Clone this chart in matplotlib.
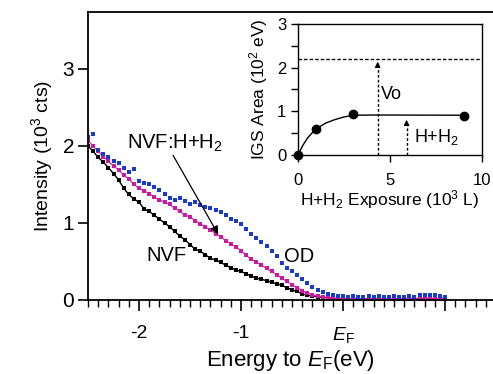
import numpy as np
import matplotlib
matplotlib.use("Agg")
import matplotlib.pyplot as plt

plt.rcParams['font.family'] = ['Liberation Sans', 'DejaVu Sans']
plt.rcParams['mathtext.fontset'] = 'custom'
plt.rcParams['mathtext.rm'] = 'Liberation Sans'
plt.rcParams['mathtext.it'] = 'Liberation Sans:italic'
plt.rcParams['axes.unicode_minus'] = False

# energy grid (eV relative to E_F), 0.05 eV steps
energy = np.linspace(-2.5, 1.0, 71)

nvf = [2.00, 1.93, 1.85, 1.79, 1.72, 1.64, 1.56, 1.45, 1.37, 1.31,
       1.27, 1.18, 1.15, 1.10, 1.05, 1.00, 0.95, 0.89, 0.83, 0.78,
       0.72, 0.66, 0.63, 0.59, 0.54, 0.52, 0.49, 0.45, 0.42, 0.39,
       0.37, 0.34, 0.31, 0.28, 0.27, 0.25, 0.23, 0.21, 0.19, 0.16,
       0.13, 0.11, 0.08, 0.06, 0.05, 0.04, 0.03, 0.03, 0.02, 0.02,
       0.02, 0.01, 0.02, 0.01, 0.01, 0.02, 0.01, 0.01, 0.01, 0.02,
       0.01, 0.01, 0.01, 0.01, 0.02, 0.01, 0.01, 0.01, 0.01, 0.01,
       0.01]

nvf_h = [2.07, 2.00, 1.93, 1.86, 1.80, 1.74, 1.69, 1.62, 1.57, 1.50,
         1.45, 1.42, 1.38, 1.34, 1.30, 1.27, 1.24, 1.19, 1.15, 1.10,
         1.08, 1.03, 0.99, 0.95, 0.91, 0.86, 0.82, 0.77, 0.73, 0.69,
         0.64, 0.58, 0.53, 0.49, 0.45, 0.41, 0.37, 0.33, 0.28, 0.24,
         0.20, 0.16, 0.12, 0.09, 0.07, 0.05, 0.04, 0.03, 0.02, 0.02,
         0.02, 0.02, 0.01, 0.02, 0.02, 0.01, 0.02, 0.02, 0.01, 0.02,
         0.02, 0.02, 0.01, 0.02, 0.02, 0.02, 0.03, 0.02, 0.02, 0.02,
         0.03]

od = [2.12, 2.15, 1.95, 1.90, 1.85, 1.80, 1.78, 1.72, 1.66, 1.70,
      1.55, 1.52, 1.50, 1.47, 1.43, 1.38, 1.33, 1.30, 1.33, 1.28,
      1.25, 1.27, 1.23, 1.21, 1.19, 1.17, 1.14, 1.10, 1.05, 1.02,
      0.98, 0.92, 0.86, 0.80, 0.75, 0.70, 0.64, 0.57, 0.48, 0.42,
      0.37, 0.32, 0.27, 0.22, 0.17, 0.13, 0.10, 0.08, 0.06, 0.05,
      0.05, 0.04, 0.05, 0.04, 0.04, 0.05, 0.04, 0.05, 0.04, 0.04,
      0.05, 0.04, 0.04, 0.05, 0.04, 0.06, 0.06, 0.07, 0.06, 0.05,
      0.04]

# inset: IGS area vs exposure
exposure_pts = [0, 1, 3, 9]
igs_pts = [0.0, 0.6, 0.93, 0.9]
fit_x = [0, 0.25, 0.5, 0.75, 1.0, 1.5, 2.0, 2.5, 3.0, 4.0, 5.0, 9.0]
fit_y = [0.0, 0.21, 0.38, 0.50, 0.60, 0.73, 0.81, 0.87, 0.91, 0.915, 0.915, 0.91]
vo_level = 2.2
vo_x = 4.33
hh_x = 5.9

fig = plt.figure(figsize=(4.93, 3.74), dpi=100)
ax = fig.add_axes([0.1785, 0.198, 0.8215, 0.770])

ax.plot(energy, nvf, color='black', marker='s', ms=2.2, lw=1.0, mew=0)
ax.plot(energy, nvf_h, color='#cc1aa0', marker='s', ms=2.4, lw=0.8, mew=0)
ax.plot(energy, od, color='#1a3acc', marker='s', ms=2.6, ls='none', mew=0)

ax.set_xlim(-2.5, 1.47)
ax.set_ylim(0, 3.74)
ax.spines['right'].set_visible(False)
for s in ['left', 'bottom', 'top']:
    ax.spines[s].set_linewidth(1.3)
ax.set_xticks([-2, -1, 0, 1])
ax.set_xticklabels(['-2', '-1', r'$E_{\mathrm{F}}$', ''], fontsize=14)
ax.set_xticks(np.arange(-2.5, 1.5, 0.1), minor=True)
ax.set_yticks([0, 1, 2, 3])
ax.set_yticklabels(['0', '1', '2', '3'], fontsize=15)
ax.tick_params(axis='x', which='major', direction='out', length=8, width=1.2, pad=10)
ax.tick_params(axis='x', which='minor', direction='out', length=5, width=1.0)
ax.tick_params(axis='y', which='major', direction='out', length=7, width=1.2, pad=3)
ax.set_xlabel(r'Energy to $E_{\mathrm{F}}$(eV)', fontsize=16, labelpad=2)
ax.set_ylabel(r'Intensity (10$^3$ cts)', fontsize=14, labelpad=5)

ax.text(-1.65, 2.04, r'NVF:H+H$_2$', fontsize=14.5, ha='center', va='center')
ax.annotate('', xy=(-1.21, 0.82), xytext=(-1.68, 1.91),
            arrowprops=dict(arrowstyle='-|>', color='black', lw=0.9,
                            mutation_scale=12))
ax.text(-1.73, 0.58, 'NVF', fontsize=14.5, ha='center', va='center')
ax.text(-0.43, 0.56, 'OD', fontsize=14.5, ha='center', va='center')

# inset
ins = fig.add_axes([0.6045, 0.5856, 0.3732, 0.3503])
ins.plot(fit_x, fit_y, color='black', lw=1.0)
ins.plot(exposure_pts, igs_pts, 'o', color='black', ms=6, clip_on=False)
ins.axhline(vo_level, color='black', lw=1.0, ls=(0, (2.5, 1.5)))
ins.plot([vo_x, vo_x], [0, vo_level - 0.15], color='black', lw=1.0, ls=(0, (2, 1.5)))
ins.annotate('', xy=(vo_x, vo_level), xytext=(vo_x, vo_level - 0.2),
             arrowprops=dict(arrowstyle='-|>', color='black', lw=0.8,
                             mutation_scale=8))
ins.plot([hh_x, hh_x], [0, 0.72], color='black', lw=1.0, ls=(0, (2, 1.5)))
ins.annotate('', xy=(hh_x, 0.87), xytext=(hh_x, 0.67),
             arrowprops=dict(arrowstyle='-|>', color='black', lw=0.8,
                             mutation_scale=8))
ins.text(4.5, 1.38, 'Vo', fontsize=13, ha='left', va='center')
ins.text(6.3, 0.42, r'H+H$_2$', fontsize=13, ha='left', va='center')

ins.set_xlim(0, 10)
ins.set_ylim(0, 3)
ins.set_xticks([0, 5, 10])
ins.set_xticklabels(['0', '5', '10'], fontsize=12)
ins.set_yticks([0, 1, 2, 3])
ins.set_yticks([0.5, 1.5, 2.5], minor=True)
ins.set_yticklabels(['0', '1', '2', '3'], fontsize=12)
ins.tick_params(axis='both', which='both', direction='out', length=5, width=1.0)
ins.tick_params(axis='x', pad=8)
for s in ins.spines.values():
    s.set_linewidth(1.0)
ins.set_xlabel(r'H+H$_2$ Exposure (10$^3$ L)', fontsize=12.5, labelpad=0)
ins.set_ylabel(r'IGS Area (10$^2$ eV)', fontsize=12.5, labelpad=5)

fig.savefig('out.png', dpi=100)
